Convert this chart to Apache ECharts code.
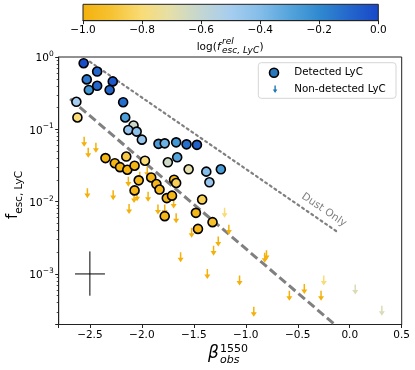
<!DOCTYPE html>
<html>
<head>
<meta charset="utf-8">
<script src="https://cdn.jsdelivr.net/npm/echarts@6/dist/echarts.min.js"></script>
<style>
html, body { margin: 0; padding: 0; background: #fff; }
#chart { width: 415px; height: 370px; }
</style>
</head>
<body>
<div id="chart"></div>
<script>
// detected LyC: beta, f_esc, log(f_rel)
const detBeta = [-2.56, -2.43, -2.53, -2.43, -2.28, -2.51, -2.31, -2.63, -2.62, -2.18, -2.16, -2.08, -2.13, -2.05, -2.00,
    -1.84, -1.78, -1.67, -1.57, -1.47, -1.66, -1.75, -1.55, -1.38, -1.24, -1.35, -1.42,
    -2.35, -2.26, -2.21, -2.14, -2.07, -2.15, -1.97, -2.03, -2.07, -1.91, -1.86, -1.83, -1.76, -1.78,
    -1.69, -1.67, -1.71, -1.48, -1.46, -1.32]
const detFesc = [0.82, 0.63, 0.49, 0.40, 0.46, 0.35, 0.35, 0.24, 0.146, 0.237, 0.146, 0.113, 0.098, 0.093, 0.072,
    0.063, 0.064, 0.066, 0.062, 0.061, 0.041, 0.035, 0.028, 0.026, 0.028, 0.0185, 0.0107,
    0.040, 0.034, 0.030, 0.0276, 0.0314, 0.042, 0.0368, 0.0197, 0.0143, 0.0216, 0.0175, 0.0147, 0.0112, 0.0063,
    0.0201, 0.0181, 0.0121, 0.0070, 0.0042, 0.0052]
const detFrel = [-0.02, -0.10, -0.15, -0.10, -0.05, -0.25, -0.10, -0.50, -0.80, -0.12, -0.28, -0.62, -0.45, -0.42, -0.45,
    -0.27, -0.35, -0.25, -0.12, -0.08, -0.30, -0.63, -0.70, -0.40, -0.27, -0.45, -0.85,
    -0.98, -0.98, -0.98, -0.98, -0.98, -0.88, -0.80, -0.97, -0.97, -0.97, -0.97, -0.97, -0.97, -0.97,
    -0.97, -0.85, -0.97, -0.97, -0.97, -0.92]

// non-detected LyC (upper limits)
const limBeta = [-2.555, -2.442, -2.516, -2.524, -2.276, -2.13, -2.123, -2.075, -2.046, -2.02, -1.948, -1.94,
    -1.845, -1.78, -1.694, -1.67, -1.521, -1.204, -1.163, -1.265, -1.31, -1.627, -1.37, -1.06,
    -0.818, -0.801, -0.923, -0.581, -0.437, -0.276, -0.25, 0.053, 0.309]
const limFesc = [0.0673, 0.0556, 0.0474, 0.0131, 0.0123, 0.0189, 0.0079, 0.0112, 0.0119, 0.0221, 0.0259, 0.0117,
    0.0078, 0.0078, 0.0094, 0.0059, 0.0037, 0.0070, 0.0041, 0.0028, 0.0021, 0.0017, 0.0010, 0.00081,
    0.00167, 0.00182, 0.00030, 0.00050, 0.00062, 0.00050, 0.00081, 0.00061, 0.00031]
const limFrel = [-1, -1, -1, -1, -1, -1, -1, -1, -1, -1, -1, -1,
    -1, -1, -1, -1, -1, -0.8, -1, -1, -1, -1, -1, -1,
    -1, -1, -1, -1, -1, -1, -0.8, -0.67, -0.67]

// reference lines
const dustLine = [[-2.50, 0.86], [-0.11, 0.00374]]
const fitLine = [[-2.69, 0.263], [-0.15, 0.000203]]
const errH = [[-2.643, 0.001], [-2.355, 0.001]]
const errV = [[-2.5, 0.00205], [-2.5, 0.0005]]

const cbarColors = ['#f4b10b', '#f6c334', '#f9dc76', '#e4dfaa', '#c3d6d2', '#a6cdef', '#84bde9', '#54a4dc', '#3089cf', '#2467cc', '#1848c8']

const minorTicks = []
for (let k = -4; k < 0; k++) {
    for (let m = 2; m <= 9; m++) {
        const v = m * Math.pow(10, k)
        if (v >= 2e-4 && v < 1) minorTicks.push(v)
    }
}

const FONT = 'DejaVu Sans'
const minus = s => String(s).replace('-', '\u2212')
const arrowPath = 'path://M3,0 L5,0 L5,6 L8,6 L4,11 L0,6 L3,6 Z'

const chart = echarts.init(document.getElementById('chart'))

const options = {
    animation: false,
    textStyle: { fontFamily: FONT },
    grid: [
        { left: 58.7, right: 13.3, top: 57, bottom: 45.5, show: true, borderColor: '#222', borderWidth: 1 },
        {
            left: 83, right: 36.7, top: 4.3, height: 16.4, show: true, borderColor: '#222', borderWidth: 1,
            backgroundColor: new echarts.graphic.LinearGradient(0, 0, 1, 0,
                cbarColors.map((c, i) => ({ offset: i / (cbarColors.length - 1), color: c })))
        }
    ],
    xAxis: [
        {
            type: 'value', gridIndex: 0, min: -2.8, max: 0.5,
            axisLine: { onZero: false, lineStyle: { color: '#222', width: 1 } },
            axisTick: { length: 3.5, lineStyle: { color: '#222' } },
            splitLine: { show: false },
            axisLabel: {
                fontSize: 10.5, color: '#000', margin: 5,
                formatter: v => {
                    const h = v * 2
                    if (Math.abs(h - Math.round(h)) > 1e-6) return ''
                    return minus(v.toFixed(1))
                }
            }
        },
        {
            type: 'value', gridIndex: 1, min: -1, max: 0, interval: 0.2,
            axisLine: { onZero: false, lineStyle: { color: '#222', width: 1 } },
            axisTick: { length: 3.5, lineStyle: { color: '#222' } },
            splitLine: { show: false },
            axisLabel: {
                fontSize: 10.5, color: '#000', margin: 4,
                formatter: v => minus((Math.abs(v) < 1e-9 ? 0 : v).toFixed(1))
            }
        }
    ],
    yAxis: [
        {
            type: 'log', gridIndex: 0, logBase: 10, min: 2e-4, max: 1, position: 'left',
            axisLine: { onZero: false, lineStyle: { color: '#222', width: 1 } },
            axisTick: { length: 3.5, lineStyle: { color: '#222' } },
            splitLine: { show: false },
            axisLabel: {
                margin: 5, color: '#000',
                formatter: v => {
                    const e = Math.log10(v), r = Math.round(e)
                    if (Math.abs(e - r) > 1e-6) return ''
                    return '{b|10}{s|' + minus(r) + '}'
                },
                rich: {
                    b: { fontSize: 10.5, color: '#000', fontFamily: FONT, verticalAlign: 'bottom' },
                    s: { fontSize: 7.5, color: '#000', fontFamily: FONT, verticalAlign: 'bottom', padding: [0, 0, 6, 0] }
                }
            }
        },
        {
            type: 'log', gridIndex: 0, logBase: 10, min: 2e-4, max: 1, position: 'left',
            axisLine: { show: false, onZero: false },
            axisLabel: { show: false },
            splitLine: { show: false },
            axisTick: { length: 2, customValues: minorTicks, lineStyle: { color: '#222', width: 0.8 } }
        },
        { type: 'value', gridIndex: 1, min: 0, max: 1, show: false }
    ],
    visualMap: {
        type: 'continuous', show: false, min: -1, max: 0, dimension: 2,
        seriesIndex: [0, 1], inRange: { color: cbarColors }
    },
    series: [
        {
            name: 'Detected LyC', type: 'scatter', z: 4,
            symbolSize: 9,
            itemStyle: { borderColor: '#000', borderWidth: 1.6, opacity: 1 },
            data: detBeta.map((b, i) => [b, detFesc[i], detFrel[i]])
        },
        {
            name: 'Non-detected LyC', type: 'scatter', z: 3,
            symbol: arrowPath, symbolSize: [6, 10],
            itemStyle: { opacity: 1 },
            data: limBeta.map((b, i) => [b, limFesc[i], limFrel[i]])
        },
        {
            type: 'line', z: 2, symbol: 'none', silent: true, data: dustLine,
            lineStyle: { color: '#808080', width: 2.2, type: [2, 3.6], cap: 'round' }
        },
        {
            type: 'line', z: 2, symbol: 'none', silent: true, data: fitLine,
            lineStyle: { color: '#808080', width: 3, type: [8.5, 4] }
        },
        { type: 'line', z: 2, symbol: 'none', silent: true, data: errH, lineStyle: { color: '#000', width: 1 } },
        { type: 'line', z: 2, symbol: 'none', silent: true, data: errV, lineStyle: { color: '#000', width: 1 } }
    ],
    graphic: [
        // y axis title
        {
            type: 'text', x: 15, y: 195, rotation: Math.PI / 2,
            style: {
                text: '{f|f}{s|esc, LyC}', align: 'center', verticalAlign: 'middle',
                rich: {
                    f: { fontSize: 15, fontFamily: FONT, fill: '#000', verticalAlign: 'bottom', padding: [0, 0, 4, 0] },
                    s: { fontSize: 10.5, fontFamily: FONT, fill: '#000', verticalAlign: 'bottom' }
                }
            }
        },
        // x axis title
        { type: 'text', x: 213.5, y: 354, style: { text: 'β', fontSize: 17, fontStyle: 'italic', fontFamily: FONT, fill: '#000', align: 'center', verticalAlign: 'middle' } },
        { type: 'text', x: 220, y: 349.5, style: { text: '1550', fontSize: 11, fontFamily: FONT, fill: '#000', align: 'left', verticalAlign: 'middle' } },
        { type: 'text', x: 220, y: 360, style: { text: 'obs', fontSize: 11, fontStyle: 'italic', fontFamily: FONT, fill: '#000', align: 'left', verticalAlign: 'middle' } },
        // colorbar title
        { type: 'text', x: 196.7, y: 47, style: { text: 'log(', fontSize: 10.5, fontFamily: FONT, fill: '#000', align: 'left', verticalAlign: 'middle' } },
        { type: 'text', x: 217, y: 47, style: { text: 'f', fontSize: 10.5, fontStyle: 'italic', fontFamily: FONT, fill: '#000', align: 'left', verticalAlign: 'middle' } },
        { type: 'text', x: 222, y: 42, style: { text: 'rel', fontSize: 9, fontStyle: 'italic', fontFamily: FONT, fill: '#000', align: 'left', verticalAlign: 'middle' } },
        { type: 'text', x: 222, y: 50.5, style: { text: 'esc, LyC', fontSize: 9, fontStyle: 'italic', fontFamily: FONT, fill: '#000', align: 'left', verticalAlign: 'middle' } },
        { type: 'text', x: 259.5, y: 47, style: { text: ')', fontSize: 10.5, fontFamily: FONT, fill: '#000', align: 'left', verticalAlign: 'middle' } },
        // dust only label
        {
            type: 'text', x: 324, y: 210, rotation: -0.6, z: 5,
            style: { text: 'Dust Only', fontSize: 10.5, fontFamily: FONT, fill: '#808080', align: 'center', verticalAlign: 'middle' }
        },
        // legend
        {
            type: 'rect', z: 10, shape: { x: 258.3, y: 62.7, width: 137.7, height: 35.6, r: 3 },
            style: { fill: 'rgba(255,255,255,0.8)', stroke: '#d5d5d5', lineWidth: 1 }
        },
        {
            type: 'circle', z: 11, shape: { cx: 274, cy: 72.7, r: 4.5 },
            style: { fill: '#2878bd', stroke: '#000', lineWidth: 1.6 }
        },
        {
            type: 'polygon', z: 11,
            shape: { points: [[274.4, 85.5], [275.8, 85.5], [275.8, 89.5], [277.4, 89.5], [275.1, 93], [272.8, 89.5], [274.4, 89.5]] },
            style: { fill: '#1f77b4' }
        },
        { type: 'text', z: 11, x: 294.3, y: 72.7, style: { text: 'Detected LyC', fontSize: 10.3, fontFamily: FONT, fill: '#000', align: 'left', verticalAlign: 'middle' } },
        { type: 'text', z: 11, x: 294.3, y: 89.3, style: { text: 'Non-detected LyC', fontSize: 10.3, fontFamily: FONT, fill: '#000', align: 'left', verticalAlign: 'middle' } }
    ]
}

chart.setOption(options)
</script>
</body>
</html>
